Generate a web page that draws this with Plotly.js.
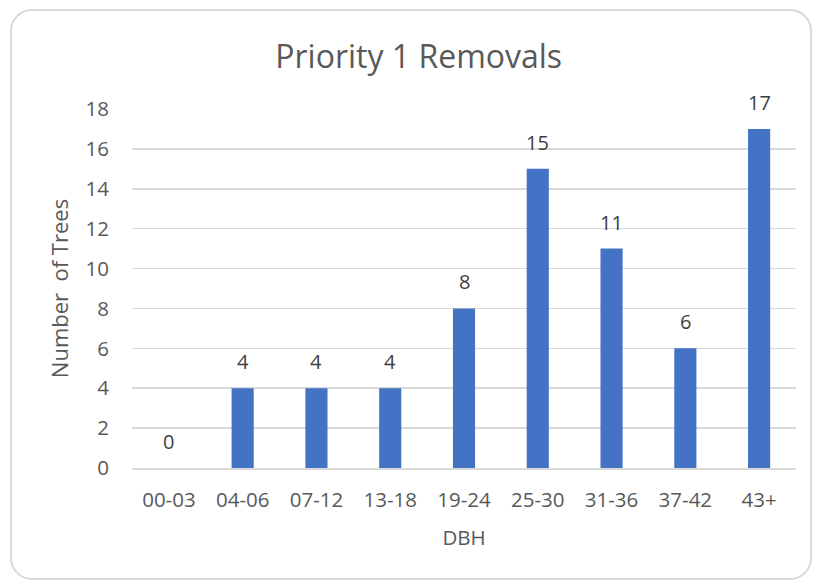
<!DOCTYPE html>
<html>
<head>
<meta charset="utf-8">
<script src="https://cdn.plot.ly/plotly-3.0.1.min.js"></script>
<style>
  html, body { margin: 0; padding: 0; background: #ffffff; }
  #frame { position: absolute; left: 10px; top: 9px; width: 798px; height: 567px;
           border: 2.5px solid #d9d9d9; border-radius: 22px; background: #ffffff; }
  #chart { position: absolute; left: 0; top: 0; width: 813px; height: 581px; }
</style>
</head>
<body>
<div id="frame"></div>
<div id="chart"></div>
<script>
const categories = ["00-03", "04-06", "07-12", "13-18", "19-24", "25-30", "31-36", "37-42", "43+"];
const treeCounts = [0, 4, 4, 4, 8, 15, 11, 6, 17];
const yTickValues = [0, 2, 4, 6, 8, 10, 12, 14, 16, 18];

const FONT = "Open Sans, Noto Sans, sans-serif";

const trace = {
  type: "bar",
  x: categories,
  y: treeCounts,
  marker: { color: "#4472C4", line: { width: 0 } },
  hoverinfo: "x+y"
};

const annotations = categories.map((c, i) => ({
  x: c, y: treeCounts[i], xref: "x", yref: "y",
  text: String(treeCounts[i]), showarrow: false,
  yanchor: "bottom", yshift: 11,
  font: { family: FONT, size: 20, color: "#404040" }
}));

const layout = {
  width: 813, height: 581,
  paper_bgcolor: "rgba(0,0,0,0)",
  plot_bgcolor: "rgba(0,0,0,0)",
  margin: { l: 132, r: 17, t: 109, b: 113 },
  bargap: 0.70,
  showlegend: false,
  title: {
    text: "Priority 1 Removals",
    x: 0.515, xanchor: "center",
    y: 0.902, yanchor: "middle",
    font: { family: FONT, size: 32, color: "#595959" }
  },
  xaxis: {
    type: "category",
    categoryorder: "array", categoryarray: categories,
    showgrid: false, zeroline: false,
    showline: true, linecolor: "#d9d9d9", linewidth: 1.5,
    ticks: "", ticklabelstandoff: 13,
    tickfont: { family: FONT, size: 20.5, color: "#595959" },
    title: { text: "DBH", standoff: 18, font: { family: FONT, size: 20.5, color: "#595959" } }
  },
  yaxis: {
    range: [0, 18],
    tickvals: yTickValues,
    showgrid: true, gridcolor: "#d9d9d9", gridwidth: 1.5,
    zeroline: false, showline: false,
    ticks: "", ticklabelstandoff: 22,
    tickfont: { family: FONT, size: 20.5, color: "#595959" },
    title: { text: "Number\u00a0 of Trees", standoff: 10, font: { family: FONT, size: 22, color: "#595959" } }
  },
  annotations: annotations
};

Plotly.newPlot("chart", [trace], layout, { displayModeBar: false, staticPlot: true });
</script>
</body>
</html>
